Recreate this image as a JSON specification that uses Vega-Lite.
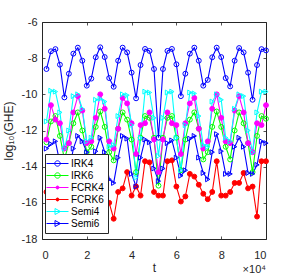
{
  "$schema": "https://vega.github.io/schema/vega-lite/v6.json",
  "width": 224,
  "height": 217,
  "autosize": {"type": "none"},
  "padding": {"left": 42, "top": 22, "right": 29, "bottom": 37},
  "background": "white",
  "config": {
    "view": {"stroke": "#262626", "strokeWidth": 1},
    "font": "Liberation Sans",
    "axis": {
      "domain": false, "grid": false,
      "labelFont": "Liberation Sans", "labelFontSize": 11, "labelColor": "#262626",
      "tickColor": "#262626", "tickSize": -3, "tickWidth": 0.8,
      "titleFont": "Liberation Sans", "titleFontSize": 12, "titleFontWeight": "normal", "titleColor": "#262626"
    }
  },
  "data": {"values": [
    {"t":0.2,"IRK4":-8.6,"IRK6":-12.65,"FCRK4":-12.5,"FCRK6":-15.4,"Semi4":-11.5,"Semi6":-13.0},
    {"t":0.4,"IRK4":-7.62,"IRK6":-11.5,"FCRK4":-10.6,"FCRK6":-15.0,"Semi4":-9.8,"Semi6":-12.75},
    {"t":0.6,"IRK4":-7.5,"IRK6":-11.2,"FCRK4":-11.4,"FCRK6":-14.8,"Semi4":-9.85,"Semi6":-12.6},
    {"t":0.8,"IRK4":-8.36,"IRK6":-12.3,"FCRK4":-11.6,"FCRK6":-15.3,"Semi4":-11.0,"Semi6":-13.8},
    {"t":1.0,"IRK4":-10.17,"IRK6":-13.6,"FCRK4":-13.0,"FCRK6":-16.0,"Semi4":-13.0,"Semi6":-15.0},
    {"t":1.2,"IRK4":-8.86,"IRK6":-12.7,"FCRK4":-12.7,"FCRK6":-15.5,"Semi4":-12.0,"Semi6":-14.3},
    {"t":1.4,"IRK4":-7.75,"IRK6":-11.6,"FCRK4":-11.0,"FCRK6":-14.6,"Semi4":-10.1,"Semi6":-13.0},
    {"t":1.6,"IRK4":-7.42,"IRK6":-11.0,"FCRK4":-10.1,"FCRK6":-14.3,"Semi4":-10.0,"Semi6":-12.3},
    {"t":1.8,"IRK4":-8.14,"IRK6":-12.0,"FCRK4":-10.9,"FCRK6":-14.8,"Semi4":-10.8,"Semi6":-12.6},
    {"t":2.0,"IRK4":-9.52,"IRK6":-13.2,"FCRK4":-12.7,"FCRK6":-15.6,"Semi4":-12.6,"Semi6":-13.2},
    {"t":2.2,"IRK4":-9.13,"IRK6":-12.9,"FCRK4":-12.6,"FCRK6":-15.5,"Semi4":-12.4,"Semi6":-14.6},
    {"t":2.4,"IRK4":-7.95,"IRK6":-11.8,"FCRK4":-11.3,"FCRK6":-15.0,"Semi4":-10.3,"Semi6":-13.15},
    {"t":2.6,"IRK4":-7.4,"IRK6":-10.95,"FCRK4":-10.0,"FCRK6":-15.2,"Semi4":-10.25,"Semi6":-12.4},
    {"t":2.8,"IRK4":-7.94,"IRK6":-11.8,"FCRK4":-10.8,"FCRK6":-15.36,"Semi4":-10.4,"Semi6":-13.2},
    {"t":3.0,"IRK4":-9.1,"IRK6":-13.2,"FCRK4":-12.6,"FCRK6":-16.0,"Semi4":-12.9,"Semi6":-14.7},
    {"t":3.2,"IRK4":-9.58,"IRK6":-13.65,"FCRK4":-13.0,"FCRK6":-16.88,"Semi4":-12.8,"Semi6":-14.9},
    {"t":3.4,"IRK4":-8.14,"IRK6":-11.9,"FCRK4":-11.9,"FCRK6":-15.4,"Semi4":-11.2,"Semi6":-13.5},
    {"t":3.6,"IRK4":-7.42,"IRK6":-11.0,"FCRK4":-10.2,"FCRK6":-15.2,"Semi4":-10.0,"Semi6":-12.3},
    {"t":3.8,"IRK4":-7.68,"IRK6":-11.4,"FCRK4":-10.5,"FCRK6":-14.3,"Semi4":-10.05,"Semi6":-12.45},
    {"t":4.0,"IRK4":-8.8,"IRK6":-12.5,"FCRK4":-11.6,"FCRK6":-15.6,"Semi4":-11.7,"Semi6":-14.4},
    {"t":4.2,"IRK4":-10.22,"IRK6":-14.3,"FCRK4":-13.3,"FCRK6":-15.1,"Semi4":-14.6,"Semi6":-15.1},
    {"t":4.4,"IRK4":-8.38,"IRK6":-12.4,"FCRK4":-11.7,"FCRK6":-15.6,"Semi4":-12.4,"Semi6":-13.5},
    {"t":4.6,"IRK4":-7.49,"IRK6":-11.2,"FCRK4":-11.6,"FCRK6":-13.7,"Semi4":-9.85,"Semi6":-12.5},
    {"t":4.8,"IRK4":-7.6,"IRK6":-11.3,"FCRK4":-11.0,"FCRK6":-13.76,"Semi4":-9.9,"Semi6":-12.65},
    {"t":5.0,"IRK4":-8.6,"IRK6":-12.4,"FCRK4":-12.5,"FCRK6":-15.4,"Semi4":-11.3,"Semi6":-14.1},
    {"t":5.2,"IRK4":-12.4,"IRK6":-15.05,"FCRK4":-14.3,"FCRK6":-15.6,"Semi4":-13.4,"Semi6":-14.8},
    {"t":5.4,"IRK4":-8.6,"IRK6":-12.4,"FCRK4":-12.5,"FCRK6":-15.6,"Semi4":-11.3,"Semi6":-14.1},
    {"t":5.6,"IRK4":-7.6,"IRK6":-11.3,"FCRK4":-11.0,"FCRK6":-13.7,"Semi4":-9.9,"Semi6":-12.7},
    {"t":5.8,"IRK4":-7.49,"IRK6":-11.2,"FCRK4":-11.6,"FCRK6":-13.65,"Semi4":-9.85,"Semi6":-12.55},
    {"t":6.0,"IRK4":-8.34,"IRK6":-12.4,"FCRK4":-11.7,"FCRK6":-15.1,"Semi4":-12.4,"Semi6":-13.5},
    {"t":6.2,"IRK4":-10.1,"IRK6":-14.2,"FCRK4":-13.3,"FCRK6":-15.93,"Semi4":-14.2,"Semi6":-14.5},
    {"t":6.4,"IRK4":-8.86,"IRK6":-12.5,"FCRK4":-11.6,"FCRK6":-15.65,"Semi4":-11.7,"Semi6":-14.2},
    {"t":6.6,"IRK4":-7.75,"IRK6":-11.4,"FCRK4":-10.5,"FCRK6":-14.4,"Semi4":-9.9,"Semi6":-12.45},
    {"t":6.8,"IRK4":-7.42,"IRK6":-11.0,"FCRK4":-10.2,"FCRK6":-14.55,"Semi4":-9.95,"Semi6":-12.3},
    {"t":7.0,"IRK4":-8.14,"IRK6":-11.9,"FCRK4":-11.9,"FCRK6":-15.0,"Semi4":-11.2,"Semi6":-13.5},
    {"t":7.2,"IRK4":-9.52,"IRK6":-13.6,"FCRK4":-13.0,"FCRK6":-15.5,"Semi4":-12.8,"Semi6":-14.35},
    {"t":7.4,"IRK4":-9.2,"IRK6":-13.2,"FCRK4":-12.6,"FCRK6":-15.8,"Semi4":-12.9,"Semi6":-14.7},
    {"t":7.6,"IRK4":-7.95,"IRK6":-11.8,"FCRK4":-10.8,"FCRK6":-15.4,"Semi4":-10.4,"Semi6":-13.2},
    {"t":7.8,"IRK4":-7.42,"IRK6":-10.95,"FCRK4":-10.0,"FCRK6":-13.7,"Semi4":-10.0,"Semi6":-12.2},
    {"t":8.0,"IRK4":-7.94,"IRK6":-11.8,"FCRK4":-11.3,"FCRK6":-15.6,"Semi4":-10.3,"Semi6":-13.15},
    {"t":8.2,"IRK4":-9.1,"IRK6":-12.9,"FCRK4":-12.6,"FCRK6":-15.6,"Semi4":-12.4,"Semi6":-14.4},
    {"t":8.4,"IRK4":-9.56,"IRK6":-13.6,"FCRK4":-12.7,"FCRK6":-15.4,"Semi4":-12.6,"Semi6":-14.4},
    {"t":8.6,"IRK4":-8.14,"IRK6":-12.0,"FCRK4":-10.9,"FCRK6":-14.9,"Semi4":-10.8,"Semi6":-12.9},
    {"t":8.8,"IRK4":-7.44,"IRK6":-11.0,"FCRK4":-10.1,"FCRK6":-14.9,"Semi4":-10.0,"Semi6":-12.4},
    {"t":9.0,"IRK4":-7.68,"IRK6":-11.6,"FCRK4":-11.0,"FCRK6":-14.35,"Semi4":-10.1,"Semi6":-12.9},
    {"t":9.2,"IRK4":-8.8,"IRK6":-12.7,"FCRK4":-12.7,"FCRK6":-15.2,"Semi4":-12.0,"Semi6":-14.35},
    {"t":9.4,"IRK4":-10.3,"IRK6":-14.3,"FCRK4":-13.2,"FCRK6":-15.1,"Semi4":-13.2,"Semi6":-14.4},
    {"t":9.6,"IRK4":-8.38,"IRK6":-12.3,"FCRK4":-11.6,"FCRK6":-16.76,"Semi4":-11.0,"Semi6":-13.9},
    {"t":9.8,"IRK4":-7.5,"IRK6":-11.2,"FCRK4":-11.7,"FCRK6":-13.7,"Semi4":-9.85,"Semi6":-12.6},
    {"t":10.0,"IRK4":-7.57,"IRK6":-11.35,"FCRK4":-10.6,"FCRK6":-13.7,"Semi4":-9.85,"Semi6":-12.7}
  ]},
  "layer": [
    {
      "transform": [{"fold": ["IRK4","IRK6","FCRK4","FCRK6","Semi4","Semi6"], "as": ["series","v"]}],
      "mark": {"type": "line", "strokeWidth": 1.1},
      "encoding": {
        "x": {"field": "t", "type": "quantitative", "scale": {"domain": [0, 10], "nice": false},
              "axis": {"orient": "bottom", "values": [0,2,4,6,8,10], "title": "t", "labelPadding": 13, "titlePadding": 2, "labelExpr": "'' + datum.value"}},
        "y": {"field": "v", "type": "quantitative", "scale": {"domain": [-18, -6], "nice": false},
              "axis": {"orient": "left", "values": [-18,-16,-14,-12,-10,-8,-6], "title": "log₁₀(GHE)", "labelPadding": 8, "titlePadding": 6, "labelExpr": "'' + datum.value"}},
        "detail": {"field": "series"},
        "stroke": {"field": "series", "type": "nominal", "legend": null,
                   "scale": {"domain": ["IRK4","IRK6","FCRK4","FCRK6","Semi4","Semi6"], "range": ["#0000ff","#00ff00","#ff00ff","#ff0000","#00ffff","#0000ff"]}}
      }
    },
    {
      "transform": [{"fold": ["IRK4","IRK6","FCRK4","FCRK6","Semi4","Semi6"], "as": ["series","v"]}],
      "mark": {"type": "point", "filled": true, "strokeWidth": 1.0, "opacity": 1},
      "encoding": {
        "x": {"field": "t", "type": "quantitative", "axis": null},
        "y": {"field": "v", "type": "quantitative", "axis": null},
        "stroke": {"field": "series", "type": "nominal", "legend": null,
                   "scale": {"domain": ["IRK4","IRK6","FCRK4","FCRK6","Semi4","Semi6"], "range": ["#0000ff","#00ff00","#ff00ff","#ff0000","#00ffff","#0000ff"]}},
        "fill": {"field": "series", "type": "nominal", "legend": null,
                 "scale": {"domain": ["IRK4","IRK6","FCRK4","FCRK6","Semi4","Semi6"], "range": ["transparent","transparent","#ff00ff","#ff0000","transparent","transparent"]}},
        "shape": {"field": "series", "type": "nominal", "legend": null,
                  "scale": {"domain": ["IRK4","IRK6","FCRK4","FCRK6","Semi4","Semi6"], "range": ["circle","circle","circle","circle","triangle-right","triangle-right"]}},
        "size": {"field": "series", "type": "nominal", "legend": null,
                 "scale": {"domain": ["IRK4","IRK6","FCRK4","FCRK6","Semi4","Semi6"], "range": [24,24,6,6,26,26]}}
      }
    },
    {
      "transform": [{"fold": ["IRK4","IRK6","FCRK4","FCRK6","Semi4","Semi6"], "as": ["series","v"]}],
      "mark": {"type": "point", "opacity": 0},
      "encoding": {
        "x": {"field": "t", "type": "quantitative",
              "axis": {"orient": "top", "values": [0,2,4,6,8,10], "labels": false, "title": null}},
        "y": {"field": "v", "type": "quantitative",
              "axis": {"orient": "right", "values": [-18,-16,-14,-12,-10,-8,-6], "labels": false, "title": null}}
      }
    },
    {
      "data": {"values": [{"name":"IRK4"},{"name":"IRK6"},{"name":"FCRK4"},{"name":"FCRK6"},{"name":"Semi4"},{"name":"Semi6"}]},
      "mark": {"type": "point", "filled": true, "size": 100, "strokeWidth": 1.0},
      "encoding": {
        "x": {"field": "tt", "type": "quantitative", "axis": null},
        "y": {"field": "vv", "type": "quantitative", "axis": null},
        "stroke": {"field": "name", "type": "nominal",
                   "scale": {"domain": ["IRK4","IRK6","FCRK4","FCRK6","Semi4","Semi6"], "range": ["#0000ff","#00ff00","#ff00ff","#ff0000","#00ffff","#0000ff"]}},
        "fill": {"field": "name", "type": "nominal",
                 "scale": {"domain": ["IRK4","IRK6","FCRK4","FCRK6","Semi4","Semi6"], "range": ["transparent","transparent","#ff00ff","#ff0000","transparent","transparent"]}},
        "shape": {"field": "name", "type": "nominal",
                  "scale": {"domain": ["IRK4","IRK6","FCRK4","FCRK6","Semi4","Semi6"],
                            "range": [
                              "M-2.2,0H2.2M0.54,0A0.54,0.54,0,1,1,-0.54,0A0.54,0.54,0,1,1,0.54,0",
                              "M-2.2,0H2.2M0.54,0A0.54,0.54,0,1,1,-0.54,0A0.54,0.54,0,1,1,0.54,0",
                              "M-2.2,0H2.2M0.3,0A0.3,0.3,0,1,1,-0.3,0A0.3,0.3,0,1,1,0.3,0",
                              "M-2.2,0H2.2M0.3,0A0.3,0.3,0,1,1,-0.3,0A0.3,0.3,0,1,1,0.3,0",
                              "M-2.2,0H2.2M-0.5,-0.6L0.6,0L-0.5,0.6Z",
                              "M-2.2,0H2.2M-0.5,-0.6L0.6,0L-0.5,0.6Z"]},
                  "legend": {"title": null, "orient": "none", "legendX": 3, "legendY": 132,
                             "padding": 4, "symbolOffset": 3, "labelOffset": 8, "rowPadding": 1,
                             "labelFont": "Liberation Sans", "labelFontSize": 10, "labelColor": "#000000",
                             "fillColor": "white", "strokeColor": "#262626",
                             "symbolOpacity": 1, "symbolStrokeWidth": 1.0}}
      }
    },
    {
      "data": {"values": [{"lab": "×10⁴"}]},
      "mark": {"type": "text", "align": "right", "baseline": "middle", "dy": 31, "fontSize": 11, "color": "#262626", "font": "Liberation Sans"},
      "encoding": {
        "x": {"datum": 10, "type": "quantitative", "axis": null},
        "y": {"datum": -18, "type": "quantitative", "axis": null},
        "text": {"field": "lab"}
      }
    }
  ],
  "resolve": {
    "scale": {"stroke": "independent", "fill": "independent", "shape": "independent", "size": "independent"},
    "axis": {"x": "independent", "y": "independent"}
  }
}
